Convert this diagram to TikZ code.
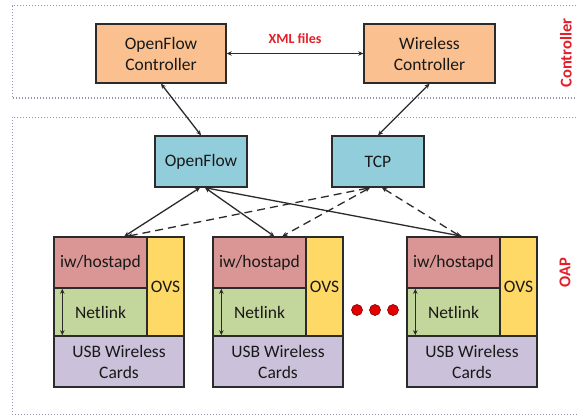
\documentclass[tikz,border=0pt]{standalone}
\usepackage{fontspec}
\setmainfont{Carlito}
\usetikzlibrary{calc,arrows.meta}
\definecolor{peach}{HTML}{FAC090}
\definecolor{cyanbox}{HTML}{92CDDC}
\definecolor{pinkbox}{HTML}{D99694}
\definecolor{greenbox}{HTML}{C3D69B}
\definecolor{yellowbox}{HTML}{FFD966}
\definecolor{purplebox}{HTML}{CCC1DA}
\definecolor{redtext}{HTML}{E3202A}
\definecolor{regionline}{HTML}{8E97AC}
\definecolor{edge}{HTML}{2B2B2B}
\begin{document}
\begin{tikzpicture}[x=1pt,y=-1pt,
  box/.style={draw=edge,line width=1.4pt,inner sep=0pt,align=center,
    font=\fontsize{17.5}{21}\selectfont,text=black!90},
  region/.style={draw=regionline,line width=1pt,dash pattern=on 1pt off 2pt},
  conn/.style={draw=edge,line width=1.3pt,{Stealth[length=5pt,width=4.5pt]}-{Stealth[length=5pt,width=4.5pt]}},
  dconn/.style={conn,dash pattern=on 8pt off 5pt},
  sidelabel/.style={text=redtext,font=\fontsize{16.5}{19}\selectfont\bfseries,rotate=90}]
\useasboundingbox (0,0) rectangle (577,417);
\fill[white] (0,0) rectangle (577,417);
% regions
\draw[region] (585,6) -- (12,6) -- (12,98) -- (585,98);
\draw[region] (585,117) -- (12,117) -- (12,414) -- (585,414);
\node[sidelabel] (lc) at (566,53) {Controller};
\node[sidelabel] (lo) at (565,273) {OAP};
% controllers
\node[box,fill=peach,minimum width=130pt,minimum height=59pt] (ofc) at (161,53.5) {OpenFlow\\Controller};
\node[box,fill=peach,minimum width=131pt,minimum height=59pt] (wc) at (429.5,53.5) {Wireless\\Controller};
\draw[conn] (ofc) -- (wc) node[pos=0.5,above=6pt,text=redtext,font=\fontsize{14}{16}\selectfont\bfseries] (xml) {XML files};
% protocol boxes
\node[box,fill=cyanbox,minimum width=92pt,minimum height=51pt] (of) at (201,161.5) {OpenFlow};
\node[box,fill=cyanbox,minimum width=92pt,minimum height=51pt] (tcp) at (378,161.5) {TCP};
\draw[conn] (ofc.south) -- (of.north);
\draw[conn] (wc.south) -- (tcp.north);
% stacks
\foreach \L/\i in {54/1,213/2,407/3}{
  \node[box,fill=pinkbox,minimum width=93pt,minimum height=51pt] (h\i) at (\L+46.5,262.5) {iw/hostapd};
  \node[box,fill=greenbox,minimum width=93pt,minimum height=48pt] (n\i) at (\L+46.5,312) {Netlink};
  \node[box,fill=yellowbox,minimum width=37pt,minimum height=99pt] (o\i) at (\L+111.5,286.5) {OVS};
  \node[box,fill=purplebox,minimum width=130pt,minimum height=51pt] (u\i) at (\L+65,361.5) {USB Wireless\\Cards};
  \draw[conn] ($(n\i.north west)+(9,1.5)$) -- ($(n\i.south west)+(9,-1.5)$);
}
% OpenFlow to stacks
\draw[conn] ($(of.south)+(-1,0)$) -- ($(h1.north west)+(71,0)$);
\draw[conn] ($(of.south)+(4,0)$) -- ($(h2.north west)+(62,0)$);
\draw[conn] ($(of.south)+(4,0)$) -- ($(h3.north west)+(56,0)$);
% TCP to stacks
\draw[dconn] ($(tcp.south)+(-8,0)$) -- ($(h1.north west)+(74,0)$);
\draw[dconn] ($(tcp.south)+(-8,0)$) -- ($(h2.north west)+(70,0)$);
\draw[dconn] ($(tcp.south)+(4,0)$) -- ($(h3.north west)+(54,0)$);
% dots
\foreach \x/\k in {357/1,375/2,393/3}{
  \fill[red!90!black,draw=red!50!black,line width=0.6pt] (\x,310) circle (5.5pt);
}
\end{tikzpicture}
\end{document}
